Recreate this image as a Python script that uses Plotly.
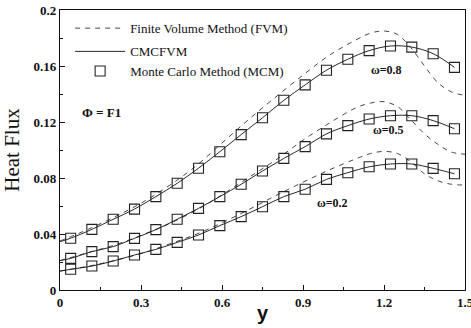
import plotly.graph_objects as go

# Monte Carlo (MCM) sample positions
mcm_x = [0.0395, 0.118, 0.197, 0.276, 0.355, 0.434, 0.513, 0.592, 0.671, 0.750,
         0.829, 0.908, 0.987, 1.066, 1.145, 1.224, 1.303, 1.382, 1.461]
mcm_w08 = [0.037, 0.0433, 0.0505, 0.0578, 0.0667, 0.0762, 0.087, 0.0988, 0.111, 0.123,
           0.1355, 0.1465, 0.157, 0.1648, 0.171, 0.1743, 0.1735, 0.1688, 0.159]
mcm_w05 = [0.0226, 0.0274, 0.031, 0.0369, 0.0431, 0.0505, 0.0583, 0.0667, 0.0755, 0.085,
           0.094, 0.1024, 0.1115, 0.1174, 0.1221, 0.1245, 0.1245, 0.121, 0.1152]
mcm_w02 = [0.0148, 0.0171, 0.0207, 0.025, 0.029, 0.034, 0.0393, 0.046, 0.0524, 0.0595,
           0.0667, 0.072, 0.079, 0.0838, 0.088, 0.09, 0.09, 0.0869, 0.083]

# CMCFVM solid lines
cm_x = [0.0] + mcm_x
cm_w08 = [0.0345] + mcm_w08
cm_w05 = [0.021] + mcm_w05
cm_w02 = [0.0135] + mcm_w02

# FVM dashed lines
fvm_x = [0.0, 0.1, 0.2, 0.3, 0.4, 0.5, 0.6, 0.7, 0.8, 0.9, 1.0, 1.1, 1.15, 1.2,
         1.25, 1.3, 1.35, 1.4, 1.45, 1.5]
fvm_w08 = [0.035, 0.043, 0.052, 0.062, 0.074, 0.088, 0.105, 0.122, 0.138, 0.1535,
           0.168, 0.179, 0.1835, 0.185, 0.1825, 0.173, 0.16, 0.148, 0.1415, 0.139]
fvm_w05 = [0.021, 0.0265, 0.032, 0.039, 0.047, 0.0565, 0.068, 0.0805, 0.093, 0.107,
           0.1195, 0.1305, 0.1335, 0.1345, 0.131, 0.1215, 0.1115, 0.104, 0.0985, 0.097]
fvm_w02 = [0.0135, 0.0168, 0.021, 0.026, 0.0325, 0.0395, 0.048, 0.0575, 0.0675, 0.077,
           0.086, 0.094, 0.0975, 0.099, 0.0975, 0.0915, 0.083, 0.078, 0.0755, 0.075]

x_ticks = [0, 0.3, 0.6, 0.9, 1.2, 1.5]
x_labels = ["0", "0.3", "0.6", "0.9", "1.2", "1.5"]
y_ticks = [0, 0.04, 0.08, 0.12, 0.16, 0.2]
y_labels = ["0", "0.04", "0.08", "0.12", "0.16", "0.2"]

series = [("ω=0.8", fvm_w08, cm_w08, mcm_w08, True),
          ("ω=0.5", fvm_w05, cm_w05, mcm_w05, False),
          ("ω=0.2", fvm_w02, cm_w02, mcm_w02, False)]

fig = go.Figure()
for name, fv, cm, mc, show in series:
    fig.add_trace(go.Scatter(x=fvm_x, y=fv, mode="lines",
                             line=dict(color="#333", width=0.9, dash="5px,5px", shape="spline"),
                             name="Finite Volume Method (FVM)", showlegend=show, legend="legend"))
for name, fv, cm, mc, show in series:
    fig.add_trace(go.Scatter(x=cm_x, y=cm, mode="lines", line=dict(color="#111", width=0.9, shape="spline"),
                             name="CMCFVM", showlegend=show, legend="legend2"))
for name, fv, cm, mc, show in series:
    fig.add_trace(go.Scatter(x=mcm_x, y=mc, mode="markers",
                             marker=dict(symbol="square-open", size=10, color="#222", line=dict(width=1.1)),
                             name="Monte Carlo Method (MCM)", showlegend=show, legend="legend3"))

serif = "Liberation Serif, Times New Roman, serif"
ann = [dict(x=0.155, y=0.127, text="<b>Φ = F1</b>", size=13),
       dict(x=1.21, y=0.157, text="<b>ω=0.8</b>", size=12),
       dict(x=1.215, y=0.114, text="<b>ω=0.5</b>", size=12),
       dict(x=1.01, y=0.062, text="<b>ω=0.2</b>", size=12)]
for a in ann:
    fig.add_annotation(x=a["x"], y=a["y"], text=a["text"], showarrow=False,
                       font=dict(family=serif, size=a["size"], color="#111"))

# x-axis title as annotation
fig.add_annotation(x=0.5, y=-0.082, xref="paper", yref="paper", text="<b>y</b>", showarrow=False,
                   yanchor="middle", font=dict(family="Liberation Sans, Arial, sans-serif", size=20, color="#111"))

axis_common = dict(showline=True, linecolor="#111", linewidth=1.2, mirror=True,
                   ticks="inside", ticklen=5, tickcolor="#111", showgrid=False, zeroline=False,
                   automargin=False, ticklabeloverflow="allow",
                   tickfont=dict(family=serif, size=13, color="#111"))
fig.update_xaxes(range=[0, 1.5], tickvals=x_ticks, ticktext=["<b>%s</b>" % t for t in x_labels],
                 minor=dict(tickvals=[0.15, 0.45, 0.75, 1.05, 1.35], ticklen=3, ticks="inside", tickcolor="#111"),
                 **axis_common)
fig.update_yaxes(range=[0, 0.2], tickvals=y_ticks, ticktext=["<b>%s</b>" % t for t in y_labels],
                 minor=dict(tickvals=[0.02, 0.06, 0.1, 0.14, 0.18], ticklen=3, ticks="inside", tickcolor="#111"),
                 title=dict(text="Heat Flux", font=dict(family=serif, size=21, color="#111"), standoff=8),
                 **axis_common)

leg_common = dict(x=0.025, xanchor="left", yanchor="middle", bgcolor="rgba(0,0,0,0)",
                  font=dict(family=serif, size=13, color="#111"), itemwidth=50)
fig.update_layout(width=471, height=328, margin=dict(l=60, r=6, t=10, b=38, autoexpand=False),
                  paper_bgcolor="white", plot_bgcolor="white",
                  font=dict(family=serif, color="#111"),
                  legend=dict(y=0.935, **leg_common),
                  legend2=dict(y=0.852, **leg_common),
                  legend3=dict(y=0.782, **leg_common))
fig.write_html("out.html", config={"displayModeBar": False},
               post_script="document.body.style.margin='0';document.body.style.overflow='hidden';")
